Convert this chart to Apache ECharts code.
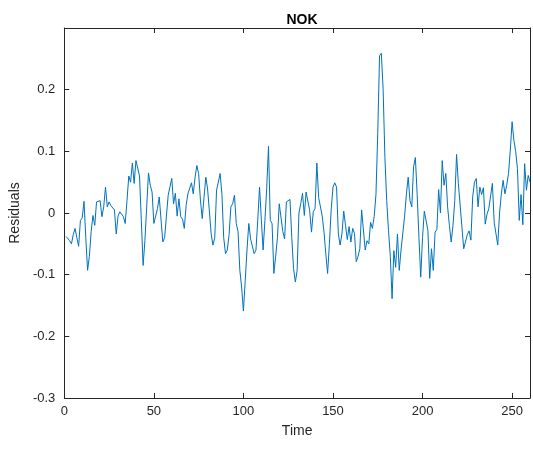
<!DOCTYPE html>
<html>
<head>
<meta charset="utf-8">
<script src="https://cdn.jsdelivr.net/npm/echarts@6/dist/echarts.min.js"></script>
<style>
  html, body { margin: 0; padding: 0; background: #ffffff; }
  #chart { width: 533px; height: 452px; }
</style>
</head>
<body>
<div id="chart"></div>
<script>
// NOK residual series, one value per time step (t = 1 .. 260)
const residuals = [
  -0.038, -0.040, -0.045, -0.050, -0.035, -0.025, -0.040, -0.054, -0.012, -0.008,
   0.019, -0.040, -0.093, -0.070, -0.030, -0.004, -0.020,  0.018,  0.020,  0.020,
  -0.006,  0.010,  0.042,  0.010,  0.018,  0.012,  0.015,  0.005, -0.034, -0.005,
   0.002,  0.000, -0.006, -0.017,  0.020,  0.060,  0.050,  0.081,  0.048,  0.085,
   0.083,  0.060, -0.012, -0.085, -0.045,  0.010,  0.065,  0.045,  0.034, -0.017,
  -0.005,  0.007,  0.026,  0.026, -0.047, -0.040, -0.043,  0.029,  0.029,  0.056,
   0.015,  0.032, -0.005,  0.023, -0.006, -0.010, -0.025,  0.012,  0.031,  0.030,
   0.049,  0.031,  0.058,  0.077,  0.064,  0.021, -0.009,  0.025,  0.058,  0.039,
   0.036, -0.034, -0.052, -0.040,  0.037,  0.037,  0.064,  0.030, -0.040, -0.066,
  -0.060, -0.035,  0.010,  0.015,  0.029, -0.017, -0.030, -0.093, -0.120, -0.159,
  -0.110, -0.060, -0.017, -0.042, -0.045, -0.066, -0.060, -0.012,  0.042, -0.010,
  -0.060, -0.012,  0.040,  0.108, -0.012, -0.017, -0.098, -0.070, -0.040,  0.015,
   0.018, -0.030, -0.042,  0.018,  0.015,  0.022, -0.040, -0.090, -0.112, -0.093,
   0.000,  0.015,  0.032, -0.004,  0.034,  0.037,  0.004, -0.031,  0.002,  0.007,
   0.081,  0.025,  0.027, -0.005, -0.031, -0.066, -0.098, -0.050,  0.005,  0.042,
   0.049,  0.042, -0.034, -0.052, -0.034,  0.003, -0.020, -0.043, -0.022, -0.047,
  -0.025, -0.033, -0.079, -0.070, -0.058,  0.005,  0.008, -0.060, -0.045, -0.050,
  -0.015, -0.025, -0.006,  0.030,  0.130,  0.255,  0.259,  0.200,  0.090,  0.020,
  -0.028, -0.070, -0.139, -0.061, -0.088, -0.034, -0.093, -0.060, -0.060, -0.005,
   0.031,  0.058,  0.020,  0.010,  0.075,  0.090,  0.030, -0.040, -0.104, -0.040,
   0.003,  0.000, -0.028, -0.106, -0.058, -0.093, -0.031, -0.027,  0.038,  0.000,
   0.085,  0.045,  0.064,  0.010, -0.020, -0.047, -0.020,  0.020,  0.095,  0.048,
   0.048, -0.023, -0.058, -0.061, -0.035, -0.029, -0.044,  0.026,  0.050,  0.056,
   0.010,  0.042,  0.030,  0.041, -0.018, -0.002,  0.007,  0.010,  0.048, -0.015,
  -0.017, -0.052,  0.000,  0.031,  0.053,  0.031,  0.045,  0.064,  0.102,  0.148,
   0.118,  0.100,  0.072, -0.012,  0.030, -0.019,  0.080,  0.037,  0.061,  0.050
];
const timeSteps = residuals.map((_, i) => i + 1);

const xTicks = [0, 50, 100, 150, 200, 250];
const yTicks = [-0.3, -0.2, -0.1, 0, 0.1, 0.2];

const axisColor = '#262626';
const font = '"Liberation Sans", Arial, Helvetica, sans-serif';

function xLabel(v) {
  return xTicks.indexOf(v) >= 0 ? String(v) : '';
}
function yLabel(v) {
  const r = Math.round(v * 10) / 10;
  if (!yTicks.some(t => Math.abs(t - r) < 1e-9) || Math.abs(v - r) > 1e-9) return '';
  return r === 0 ? '0' : r.toFixed(1);
}

const boxLine = { show: true, onZero: false, lineStyle: { color: axisColor, width: 1 } };
const innerTick = { show: true, inside: true, length: 5, lineStyle: { color: axisColor, width: 1 } };

const chart = echarts.init(document.getElementById('chart'), null, { renderer: 'canvas' });
chart.setOption({
  animation: false,
  backgroundColor: '#ffffff',
  title: {
    text: 'NOK',
    left: 297, top: 8, textAlign: 'center',
    textStyle: { fontFamily: font, fontSize: 14, fontWeight: 'bold', color: '#000000' }
  },
  grid: { left: 63, right: 1, top: 28, bottom: 54, containLabel: false },
  xAxis: [
    {
      type: 'value', min: 0, max: 260, interval: 50, position: 'bottom',
      name: 'Time', nameLocation: 'middle', nameGap: 26,
      nameTextStyle: { fontFamily: font, fontSize: 14, color: axisColor },
      axisLine: boxLine, axisTick: innerTick, splitLine: { show: false },
      axisLabel: { formatter: xLabel, fontFamily: font, fontSize: 13, color: axisColor, margin: 7 }
    },
    {
      type: 'value', min: 0, max: 260, interval: 50, position: 'top',
      axisLine: boxLine, axisTick: innerTick, splitLine: { show: false },
      axisLabel: { show: false }
    }
  ],
  yAxis: [
    {
      type: 'value', min: -0.3, max: 0.3, interval: 0.1, position: 'left',
      name: 'Residuals', nameLocation: 'middle', nameGap: 38, nameRotate: 90,
      nameTextStyle: { fontFamily: font, fontSize: 14, color: axisColor },
      axisLine: boxLine, axisTick: innerTick, splitLine: { show: false },
      axisLabel: { formatter: yLabel, fontFamily: font, fontSize: 13, color: axisColor, margin: 9 }
    },
    {
      type: 'value', min: -0.3, max: 0.3, interval: 0.1, position: 'right',
      axisLine: boxLine, axisTick: innerTick, splitLine: { show: false },
      axisLabel: { show: false }
    }
  ],
  series: [{
    type: 'line',
    data: timeSteps.map((t, i) => [t, residuals[i]]),
    xAxisIndex: 0, yAxisIndex: 0,
    showSymbol: false, symbol: 'none',
    lineStyle: { color: '#0072BD', width: 1 },
    clip: true
  }]
});
</script>
</body>
</html>
